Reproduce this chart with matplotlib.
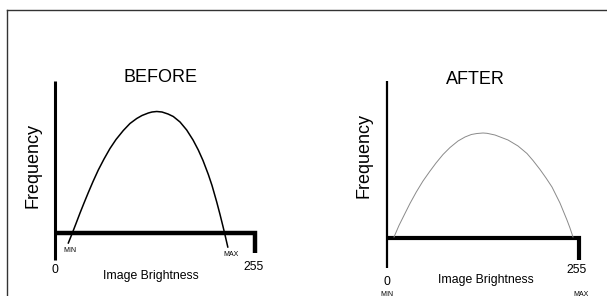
import matplotlib
matplotlib.use("Agg")
import matplotlib.pyplot as plt

plt.rcParams['font.family'] = ['Liberation Sans', 'DejaVu Sans']

# histogram outline (brightness, frequency)
before_b = [17.0, 22.1, 26.8, 31.9, 37.0, 42.5, 48.5, 55.2, 62.5, 70.1, 77.8,
            87.1, 95.6, 104.2, 110.9, 119.0, 123.7, 129.7, 136.4, 144.1,
            150.8, 159.4, 167.9, 176.0, 182.7, 188.7, 195.5, 200.2, 206.2,
            210.4, 214.2, 216.2, 220.3]
before_f = [-10, 0, 9.5, 20, 30, 40.5, 51.5, 63, 74, 84.5, 93.5,
            102.5, 109.5, 114.5, 117.5, 120, 121, 121.5, 121, 119,
            116.5, 111, 103, 93, 83, 72.5, 58.5, 47.5, 31,
            18.5, 6.5, 0, -14]

after_b = [9.3, 15.9, 23.5, 30.5, 38.9, 47.8, 56.7, 65.1, 74.4, 83.7, 94.3,
           103.6, 112.0, 119.5, 127.5, 132.8, 143.4, 160.7, 174.0, 185.9,
           193.9, 203.2, 211.2, 219.1, 229.7, 239.0, 243.0, 247.0]
after_f = [1, 12.5, 24, 34.5, 46, 57, 66.5, 75, 83.5, 90.5, 97,
           101, 103.5, 104.5, 105, 104.7, 103, 98, 92, 84.5,
           77.5, 68.5, 60, 51, 35, 18, 10, 1]

titles = ["BEFORE", "AFTER"]

W, H = 607, 296
fig = plt.figure(figsize=(W / 100, H / 100), dpi=100)
fig.patch.set_facecolor("white")

# frame (top + left border of the original picture)
frame = fig.add_axes([7 / W, -0.05, 620 / W, 1.05 - 10 / H])
frame.set_xticks([])
frame.set_yticks([])
frame.patch.set_alpha(0)
for s in ["right", "bottom"]:
    frame.spines[s].set_visible(False)
for s in ["top", "left"]:
    frame.spines[s].set_color("#333333")
    frame.spines[s].set_linewidth(1.0)


def panel(x_px0, x_px1, ax0, ay0, scale):
    ax = fig.add_axes([x_px0 / W, 0, (x_px1 - x_px0) / W, 1])
    ax.set_xlim((x_px0 - ax0) * scale, (x_px1 - ax0) * scale)
    ax.set_ylim(ay0 - H, ay0)
    ax.axis("off")
    return ax


# left panel
axL = panel(0, 303, 55, 233, 1.275)
axL.plot([0, 0], [152, -27], color="black", lw=2.2, solid_capstyle="butt")
axL.plot([0, 255, 255], [0, 0, -20], color="black", lw=3.2,
         solid_joinstyle="miter", solid_capstyle="butt")
axL.plot(before_b, before_f, color="black", lw=1.1, clip_on=False)
axL.text(134, 156, titles[0], ha="center", va="center", fontsize=13)
axL.text(-28, 68, "Frequency", rotation=90, ha="center", va="center", fontsize=13)
axL.text(122, -43, "Image Brightness", ha="center", va="center", fontsize=8.8)
axL.text(0, -37, "0", ha="center", va="center", fontsize=8.8)
axL.text(253, -34, "255", ha="center", va="center", fontsize=8.8)
axL.text(19, -17, "MIN", ha="center", va="center", fontsize=5)
axL.text(224, -22, "MAX", ha="center", va="center", fontsize=5)

# right panel
axR = panel(303, 607, 387, 238, 1.328)
axR.plot([0, 0], [157, -30], color="black", lw=1.6, solid_capstyle="butt")
axR.plot([0, 255, 255], [0, 0, -22], color="black", lw=3.0,
         solid_joinstyle="miter", solid_capstyle="butt")
axR.plot(after_b, after_f, color="#8a8a8a", lw=0.7, clip_on=False)
axR.text(118, 158, titles[1], ha="center", va="center", fontsize=13)
axR.text(-30.5, 83, "Frequency", rotation=90, ha="center", va="center", fontsize=13)
axR.text(131.5, -42, "Image Brightness", ha="center", va="center", fontsize=8.8)
axR.text(0, -44, "0", ha="center", va="center", fontsize=8.8)
axR.text(252, -32, "255", ha="center", va="center", fontsize=8.8)
axR.text(0, -56, "MIN", ha="center", va="center", fontsize=5)
axR.text(257, -56, "MAX", ha="center", va="center", fontsize=5)

fig.savefig("out.png", dpi=100, facecolor="white")
